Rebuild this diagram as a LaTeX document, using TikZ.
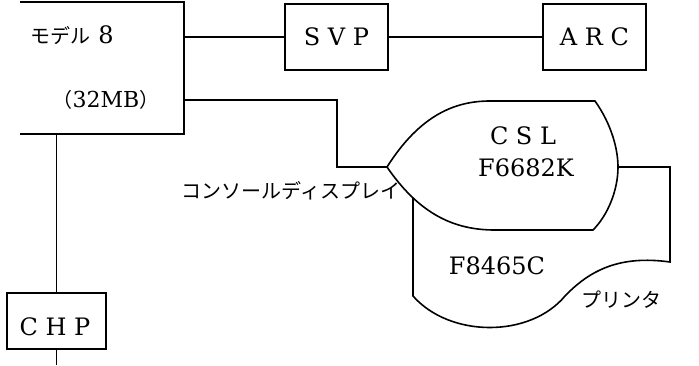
\documentclass[tikz,border=0pt]{standalone}
\usepackage{fontspec}
\setmainfont{DejaVu Serif}
\newfontfamily\jp{Noto Sans CJK JP}

\begin{document}
\begin{tikzpicture}[x=1pt, y=-1pt, line width=1.6pt,
    unit/.style={draw, inner sep=0pt, minimum width=103pt, minimum height=66pt,
                 font=\fontsize{24}{26}\selectfont},
    jtext/.style={inner sep=0pt, font=\jp\fontsize{20}{22}\selectfont},
    ltext/.style={inner sep=0pt, font=\fontsize{24}{26}\selectfont}
  ]
  \useasboundingbox (0,0) rectangle (699,365);
  % host (left edge cut off)
  \node[minimum width=162pt, minimum height=130pt, inner sep=0pt] (m8) at (102,68) {};
  \draw (m8.north west) -- (m8.north east) -- (m8.south east) -- (m8.south west);
  \node[anchor=west, inner sep=0pt] (m8name) at (30,35)
    {{\jp\fontsize{20}{22}\selectfont モデル}\fontsize{24}{26}\selectfont\ 8};
  \node[inner sep=0pt, font=\fontsize{22}{24}\selectfont] (m8mem) at (106,100)
    {{\jp\fontsize{20}{22}\selectfont （}32MB{\jp\fontsize{20}{22}\selectfont ）}};
  % units
  \node[unit] (svp) at (336.5,37) {S V P};
  \node[unit] (arc) at (594.5,37) {A R C};
  \node[unit, minimum width=99pt, minimum height=56pt] (chp) at (56.5,321) {};
  \node[ltext] (chpname) at (55,327) {C H P};
  \draw (m8.east |- svp.west) -- (svp.west);
  \draw (svp) -- (arc);
  \draw (m8.south -| chp.north) -- (chp.north);
  \coordinate (bot) at (0,365);
  \draw (chp.south) -- (chp.south |- bot);
  % printer F8465C
  \coordinate (cslin) at (387,167);
  \coordinate (cslout) at (618,167);
  \coordinate (prtne) at (670,167);
  \draw (cslout) -- (prtne) -- (670,262)
    .. controls (620,255) and (590,270) .. (565,296)
    .. controls (530,338) and (450,338) .. (413,296) -- (413,167);
  % console display
  \draw[fill=white] (cslin) .. controls (420,115) and (455,101) .. (490,101) -- (595,101)
    .. controls (612,125) and (618,150) .. (cslout)
    .. controls (618,190) and (608,215) .. (593,230) -- (495,230)
    .. controls (455,230) and (420,215) .. (cslin) -- cycle;
  \coordinate (bend) at (337,100);
  \draw (m8.east |- bend) -- (bend) -- (bend |- cslin) -- (cslin);
  % labels
  \node[ltext] (csl) at (523,136) {C S L};
  \node[ltext] (cslno) at (526,168) {F6682K};
  \node[ltext] (prtno) at (497,266) {F8465C};
  \node[jtext] (prtname) at (621,300) {プリンタ};
  \node[jtext] (cslname) at (291,191) {コンソールディスプレイ};
\end{tikzpicture}
\end{document}
